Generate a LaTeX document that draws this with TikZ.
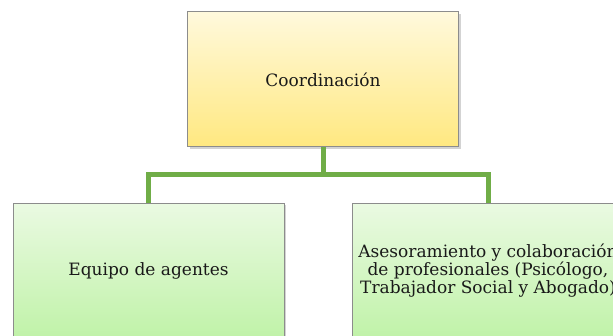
\documentclass[tikz,border=0pt]{standalone}
\usepackage{fontspec}
\setmainfont{DejaVu Serif}
\usetikzlibrary{shadows}

\definecolor{linkgreen}{HTML}{70AD47}
\definecolor{yellowtop}{HTML}{FFF9DC}
\definecolor{yellowbot}{HTML}{FFE880}
\definecolor{greentop}{HTML}{EAFAE2}
\definecolor{greenbot}{HTML}{C0F2A8}

\tikzset{
  box/.style={draw=gray!90, line width=1pt, minimum width=271pt, minimum height=135pt,
    inner sep=0pt, align=center, font=\fontsize{17}{18}\selectfont, text=black!90,
    drop shadow={shadow xshift=2pt, shadow yshift=-2pt, opacity=0.35, fill=gray}},
  yellowbox/.style={box, top color=yellowtop, bottom color=yellowbot},
  greenbox/.style={box, top color=greentop, bottom color=greenbot},
  link/.style={draw=linkgreen, line width=5pt}
}

\begin{document}
\begin{tikzpicture}[x=1pt, y=-1pt]

    \useasboundingbox (0,0) rectangle (613,336);
    \clip (0,0) rectangle (613,336);

    \node [yellowbox] (coord) at (323,79.5) {Coordinación};

    \node [greenbox] (equipo) at (148.5,271) {Equipo de agentes};
    \node [greenbox] (aseso) at (488,271) {Asesoramiento y colaboración\\de profesionales (Psicólogo,\\Trabajador Social y Abogado)};

    \coordinate (bus) at (323,175);
    \draw [link] (coord.south) -- (bus);
    \draw [link] (equipo.north) |- (bus) -| (aseso.north);

\end{tikzpicture}
\end{document}
